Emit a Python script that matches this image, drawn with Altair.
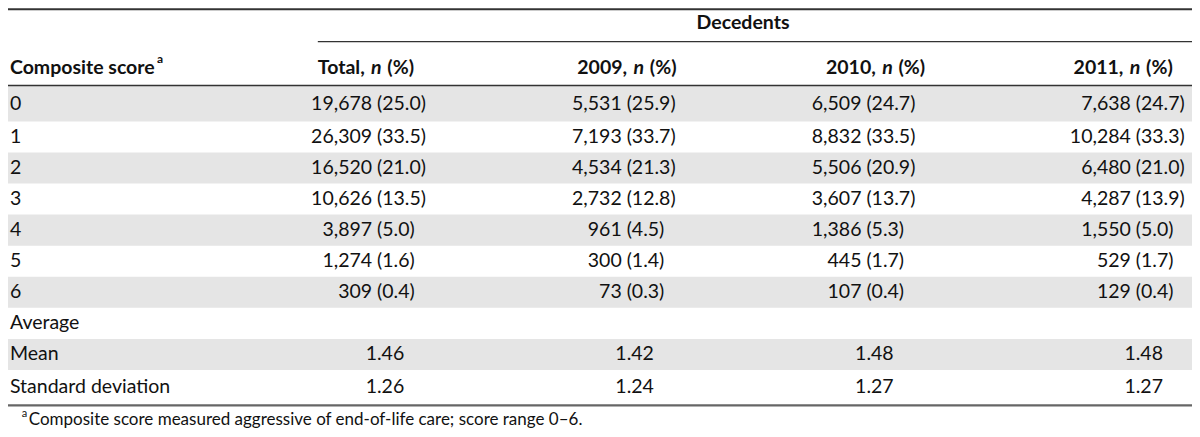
import altair as alt
import pandas as pd

# ---------------- data ----------------
row_labels = ["0", "1", "2", "3", "4", "5", "6", "Average", "Mean", "Standard deviation"]
col_years = ["Total", "2009", "2010", "2011"]
total_n = ["19,678", "26,309", "16,520", "10,626", "3,897", "1,274", "309"]
total_pct = ["25.0", "33.5", "21.0", "13.5", "5.0", "1.6", "0.4"]
y2009_n = ["5,531", "7,193", "4,534", "2,732", "961", "300", "73"]
y2009_pct = ["25.9", "33.7", "21.3", "12.8", "4.5", "1.4", "0.3"]
y2010_n = ["6,509", "8,832", "5,506", "3,607", "1,386", "445", "107"]
y2010_pct = ["24.7", "33.5", "20.9", "13.7", "5.3", "1.7", "0.4"]
y2011_n = ["7,638", "10,284", "6,480", "4,287", "1,550", "529", "129"]
y2011_pct = ["24.7", "33.3", "21.0", "13.9", "5.0", "1.7", "0.4"]
means = ["1.46", "1.42", "1.48", "1.48"]
sds = ["1.26", "1.24", "1.27", "1.27"]
group_title = "Decedents"
first_header = "Composite score"
footnote = "Composite score measured aggressive of end-of-life care; score range 0\u20136."

counts = [total_n, y2009_n, y2010_n, y2011_n]
pcts = [total_pct, y2009_pct, y2010_pct, y2011_pct]

# ---------------- layout (reference pixel frame) ----------------
REF_W, REF_H = 1200, 437
W, H = 1184, 421
FONT = "Lato"
FS = 19.5
ANCHOR = [374, 627, 870, 1143]      # x of "(" / decimal point
HEAD_LEFT = [314, 577, 829, 1080]
PREFIX_W = [49, 52, 52, 52]
GAP = 5

def row_band(i):
    if i == 0:
        return 81.0, 117.7
    top = 117.7 + 32.25 * (i - 1)
    bot = top + 32.25 if i < 9 else 411.5
    return top, bot

def row_mid(i):
    t, b = row_band(i)
    return (t + b) / 2

xs = alt.Scale(domain=[0, REF_W], range=[0, W])
ys = alt.Scale(domain=[0, REF_H], range=[0, H])

# bands
bands = pd.DataFrame([
    {"x": 0, "x2": REF_W, "y": row_band(i)[0], "y2": row_band(i)[1]}
    for i in range(len(row_labels)) if i % 2 == 0
])
band_layer = alt.Chart(bands).mark_rect(color="#e5e5e5").encode(
    x=alt.X("x:Q", scale=xs, axis=None), x2="x2:Q",
    y=alt.Y("y:Q", scale=ys, axis=None), y2="y2:Q")

# rules
rules = pd.DataFrame([
    {"x": 0, "x2": REF_W, "y": 1.2, "w": 2.0, "c": "#333333"},
    {"x": HEAD_LEFT[0], "x2": REF_W, "y": 35, "w": 1.2, "c": "#333333"},
    {"x": 0, "x2": REF_W, "y": 80.5, "w": 1.6, "c": "#333333"},
    {"x": 0, "x2": REF_W, "y": 412.5, "w": 2.2, "c": "#666666"},
])
rule_layer = alt.Chart(rules).mark_rule().encode(
    x=alt.X("x:Q", scale=xs, axis=None), x2="x2:Q",
    y=alt.Y("y:Q", scale=ys, axis=None),
    strokeWidth=alt.StrokeWidth("w:Q", scale=None),
    color=alt.Color("c:N", scale=None))

def text_layer(recs, align, weight="normal", style="normal", baseline="middle"):
    df = pd.DataFrame(recs)
    return alt.Chart(df).mark_text(
        align=align, baseline=baseline, font=FONT, fontWeight=weight,
        fontStyle=style, color="#111111").encode(
        x=alt.X("x:Q", scale=xs, axis=None),
        y=alt.Y("y:Q", scale=ys, axis=None),
        text="t:N",
        size=alt.Size("s:Q", scale=None))

left_reg, right_reg = [], []
for i, lab in enumerate(row_labels):
    left_reg.append({"x": 2, "y": row_mid(i), "t": lab, "s": FS})
for c in range(4):
    for i in range(7):
        right_reg.append({"x": ANCHOR[c] - GAP, "y": row_mid(i), "t": counts[c][i], "s": FS})
        left_reg.append({"x": ANCHOR[c], "y": row_mid(i), "t": "(" + pcts[c][i] + ")", "s": FS})
    for r, vals in ((8, means), (9, sds)):
        ip, fp = vals[c].split(".")
        right_reg.append({"x": ANCHOR[c], "y": row_mid(r), "t": ip, "s": FS})
        left_reg.append({"x": ANCHOR[c], "y": row_mid(r), "t": "." + fp, "s": FS})

# header
HY = 62
bold_left = [{"x": 2, "y": HY, "t": first_header, "s": FS}]
bold_italic = []
W_N, W_SP = 11.5, 5
for c in range(4):
    L = HEAD_LEFT[c]
    P = PREFIX_W[c]
    bold_left.append({"x": L, "y": HY, "t": col_years[c] + ",", "s": FS})
    bold_italic.append({"x": L + P + W_SP, "y": HY, "t": "n", "s": FS})
    bold_left.append({"x": L + P + W_SP + W_N + W_SP, "y": HY, "t": "(%)", "s": FS})
bold_center = [{"x": 745, "y": 16, "t": group_title, "s": FS}]
sup_bold = [{"x": 151, "y": 53, "t": "a", "s": 12}]
sup_reg = [{"x": 14, "y": 421, "t": "a", "s": 11}]
foot = [{"x": 21, "y": 428, "t": footnote, "s": 17}]

chart = alt.layer(
    band_layer,
    rule_layer,
    text_layer(left_reg, "left"),
    text_layer(right_reg, "right"),
    text_layer(bold_left, "left", weight="bold"),
    text_layer(bold_italic, "left", weight="bold", style="italic"),
    text_layer(bold_center, "center", weight="bold"),
    text_layer(sup_bold, "left", weight="bold"),
    text_layer(sup_reg, "left"),
    text_layer(foot, "left"),
).properties(
    width=W, height=H,
    autosize=alt.AutoSizeParams(type="none"),
    padding=0,
).configure_view(stroke=None)

chart.save("out.html", embed_options={"renderer": "svg", "actions": False})
